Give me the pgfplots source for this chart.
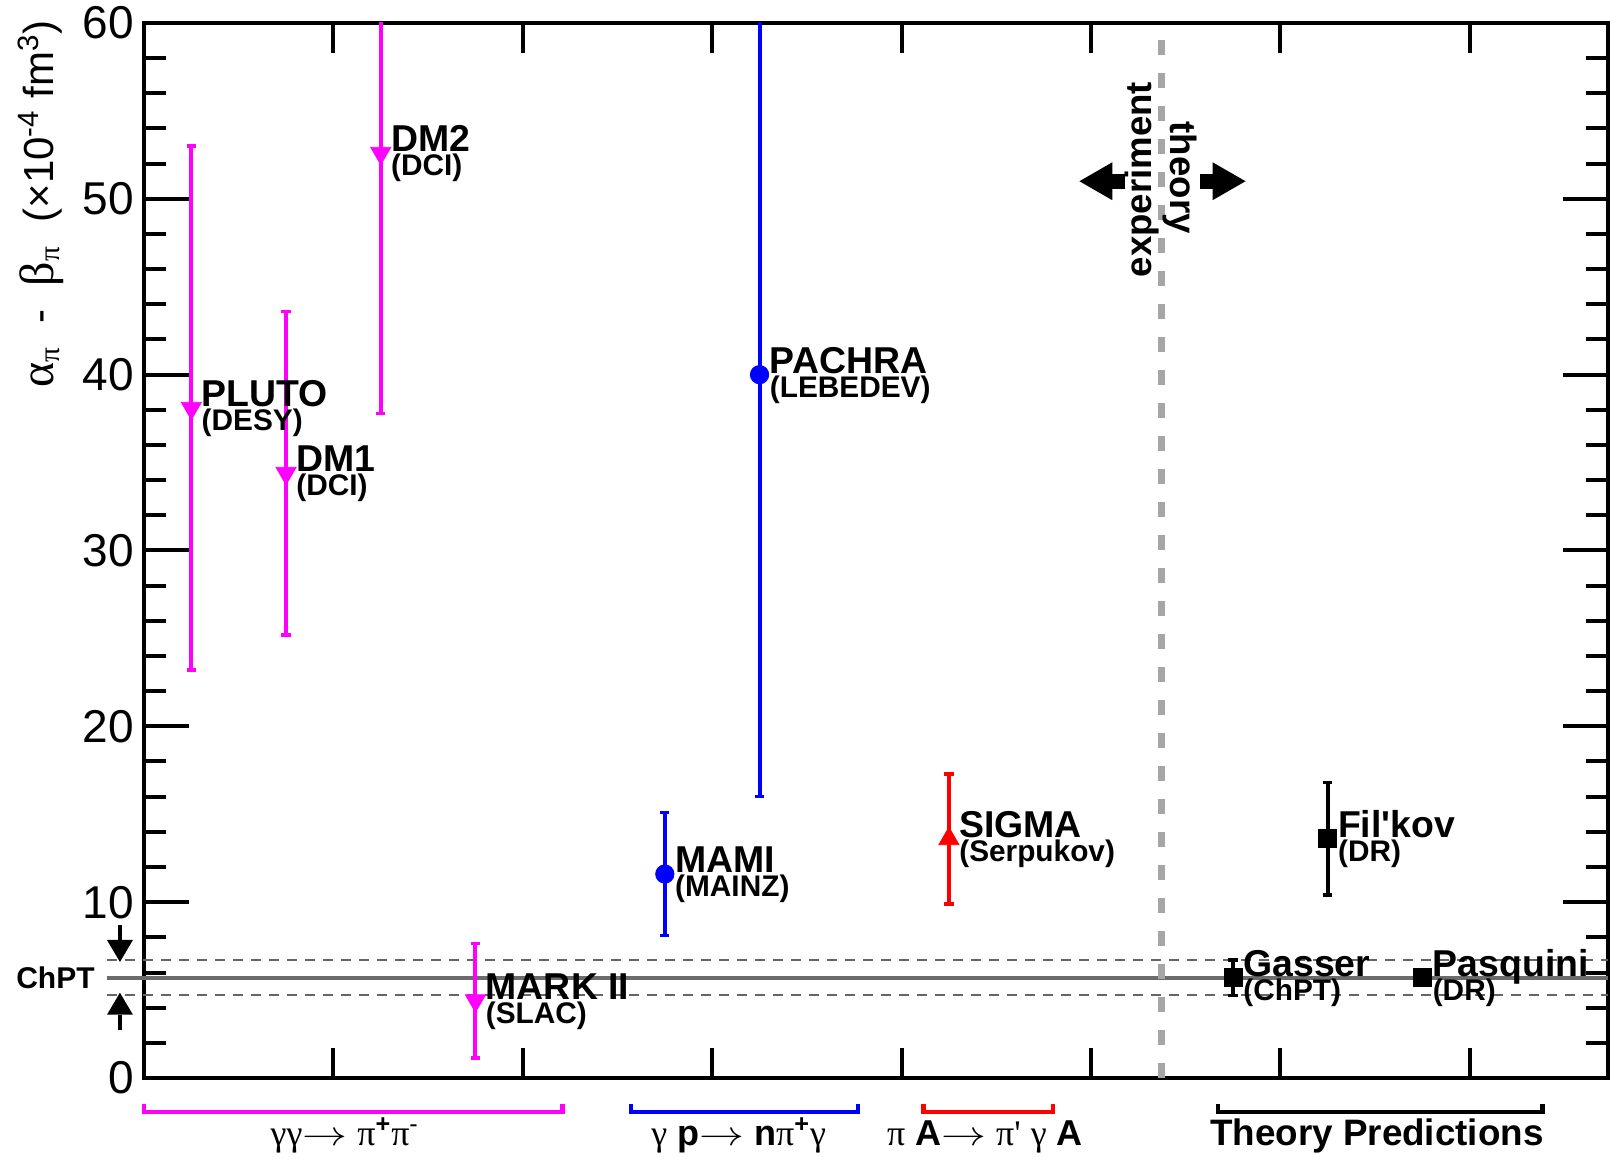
\documentclass[border=0pt]{standalone}
\usepackage{fontspec}
\setmainfont{Liberation Sans}
\newfontfamily\grk{Liberation Serif}
\usepackage{pgfplots}
\pgfplotsset{compat=1.18}
\usetikzlibrary{arrows.meta}

\definecolor{mag}{rgb}{1,0,1}
\definecolor{chpt}{HTML}{6B6B6B}
\definecolor{chptd}{HTML}{666666}
\definecolor{vdash}{HTML}{A6A6A6}

\newcommand\dlab[5]{%
  \node[anchor=base west, inner sep=0pt, font=\fontsize{18.7}{19}\selectfont#5] at ([xshift=5pt,yshift=0.8pt]axis cs:#1,#2) {#3};
  \node[anchor=base west, inner sep=0pt, font=\fontsize{14.9}{15}\selectfont#5] at ([xshift=5pt,yshift=-11.4pt]axis cs:#1,#2) {#4};}
\newcommand\brk[3]{%
  \draw[#1, line width=2.2pt, line join=miter] ([yshift=-13pt]axis cs:#2,0) -- ([yshift=-17pt]axis cs:#2,0) -- ([yshift=-17pt]axis cs:#3,0) -- ([yshift=-13pt]axis cs:#3,0);}
\newcommand\arr{\scalebox{1.3}[1]{\ensuremath{\rightarrow}}}

\begin{document}
\begin{tikzpicture}
\useasboundingbox (-72pt,-39pt) rectangle (733pt,539pt);
\begin{axis}[
  at={(0,0)}, anchor=south west, scale only axis,
  width=732pt, height=527.5pt,
  xmin=0, xmax=7.73, ymin=0, ymax=60,
  clip mode=individual,
  axis line style={line width=2.2pt, black},
  tick align=inside,
  xtick={1,2,3,4,5,6,7}, xticklabels={},
  ytick={0,10,20,30,40,50,60}, minor y tick num=4,
  xtick style={line width=2pt, black, /pgfplots/major tick length=15pt},
  ytick style={line width=2pt, black, /pgfplots/major tick length=22.5pt, /pgfplots/minor tick length=11pt},
  yticklabel style={font=\fontsize{23}{24}\selectfont, inner sep=5pt},
  /pgf/number format/assume math mode=true,
  error bars/error mark=-,
  error bars/error bar style={line width=2pt},
]
% ChPT band
\draw[chpt, line width=2.2pt] (axis cs:-0.195,5.7) -- (axis cs:7.73,5.7);
\draw[chptd, line width=1pt, dash pattern=on 5pt off 4pt] (axis cs:-0.195,6.7) -- (axis cs:7.73,6.7);
\draw[chptd, line width=1pt, dash pattern=on 5pt off 4pt] (axis cs:-0.195,4.7) -- (axis cs:7.73,4.7);
\draw[-{Triangle[length=11pt,width=13pt,line width=0pt]}, line width=2pt] (axis cs:-0.127,8.7) -- (axis cs:-0.127,6.6);
\draw[-{Triangle[length=11pt,width=13pt,line width=0pt]}, line width=2pt] (axis cs:-0.127,2.73) -- (axis cs:-0.127,4.85);
\node[anchor=east, inner sep=0pt, font=\fontsize{15}{16}\selectfont\bfseries] at ([xshift=-24.5pt]axis cs:0,5.7) {ChPT};

% experiment / theory divider
\addplot[vdash, line width=3.5pt, dash pattern=on 7.5pt off 9pt] coordinates {(5.375,0) (5.375,60)};
\node[rotate=90, anchor=base, inner sep=0pt, font=\fontsize{18.3}{20}\selectfont\bfseries] at (axis cs:5.32,51.1) {experiment};
\node[rotate=-90, anchor=base, inner sep=0pt, font=\fontsize{18.3}{20}\selectfont\bfseries] at (axis cs:5.42,51.2) {theory};
\draw[-{Triangle[length=16.5pt,width=19pt,line width=0pt]}, line width=7.5pt] (axis cs:5.182,51) -- (axis cs:4.939,51);
\draw[-{Triangle[length=16.5pt,width=19pt,line width=0pt]}, line width=7.5pt] (axis cs:5.578,51) -- (axis cs:5.816,51);

% gamma gamma -> pi+ pi-
\addplot[only marks, color=mag, mark=triangle*, mark size=5.8pt,
  mark options={rotate=180, fill=mag, draw=mag, line width=0.4pt},
  error bars/.cd, y dir=both, y explicit,
  error bar style={line width=2pt, color=mag},
  error mark options={rotate=90, line width=1.8pt, mark size=2.3pt, color=mag}]
coordinates {
 (0.25,38.1) +- (0,14.9)
 (0.75,34.4) +- (0,9.2)
 (1.25,52.6) +- (0,14.8)
 (1.75,4.4) +- (0,3.25)
};
% gamma p -> n pi+ gamma
\addplot[only marks, color=blue, mark=*, mark size=4.6pt,
  mark options={fill=blue, draw=blue, line width=0.4pt},
  error bars/.cd, y dir=both, y explicit,
  error bar style={line width=2pt, color=blue},
  error mark options={rotate=90, line width=1.8pt, mark size=2.3pt, color=blue}]
coordinates {
 (2.75,11.6) +- (0,3.5)
 (3.25,40.0) +- (0,24.0)
};
% pi A -> pi' gamma A
\addplot[only marks, color=red, mark=triangle*, mark size=5.8pt,
  mark options={fill=red, draw=red, line width=0.4pt},
  error bars/.cd, y dir=both, y explicit,
  error bar style={line width=2pt, color=red},
  error mark options={rotate=90, line width=1.8pt, mark size=2.3pt, color=red}]
coordinates {
 (4.25,13.6) +- (0,3.7)
};
% theory
\addplot[only marks, color=black, mark=square*, mark size=4.5pt,
  mark options={fill=black, draw=black, line width=0.4pt},
  error bars/.cd, y dir=both, y explicit,
  error bar style={line width=2pt, color=black},
  error mark options={rotate=90, line width=1.8pt, mark size=2.3pt, color=black}]
coordinates {
 (5.75,5.7) +- (0,1.0)
 (6.25,13.6) +- (0,3.2)
 (6.75,5.7) +- (0,0)
};

% point labels
\dlab{0.25}{38.1}{PLUTO}{(DESY)}{\bfseries}
\dlab{0.75}{34.4}{DM1}{(DCI)}{\bfseries}
\dlab{1.25}{52.6}{DM2}{(DCI)}{\bfseries}
\dlab{1.75}{4.4}{MARK II}{(SLAC)}{\bfseries}
\dlab{2.75}{11.6}{MAMI}{(MAINZ)}{\bfseries}
\dlab{3.25}{40.0}{PACHRA}{(LEBEDEV)}{\bfseries}
\dlab{4.25}{13.6}{SIGMA}{(Serpukov)}{\bfseries}
\dlab{5.75}{5.7}{Gasser}{(ChPT)}{\bfseries}
\dlab{6.25}{13.6}{Fil\textquotesingle kov}{(DR)}{\bfseries}
\dlab{6.75}{5.7}{Pasquini}{(DR)}{\bfseries}

% y label
\node[rotate=90, anchor=east, inner sep=0pt, font=\fontsize{21}{22}\selectfont] at ([xshift=-51.5pt,yshift=1.5pt]rel axis cs:0,1)
  {{\grk\fontsize{24}{24}\selectfont α}\textsubscript{\grk π}\ \ -\ \ {\grk\fontsize{24}{24}\selectfont β}\textsubscript{\grk π}\ \ (×10\textsuperscript{-4} fm\textsuperscript{3})};

% reaction brackets
\brk{mag}{0.0}{2.21}
\brk{blue}{2.57}{3.77}
\brk{red}{4.115}{4.80}
\brk{black}{5.67}{7.385}
\node[anchor=base, inner sep=0pt, font=\fontsize{18}{20}\selectfont] at ([yshift=-33.5pt]axis cs:1.06,0)
  {{\grk γγ}\arr{} {\grk π}\textsuperscript{\bfseries +}{\grk π}\textsuperscript{-}};
\node[anchor=base, inner sep=0pt, font=\fontsize{18}{20}\selectfont] at ([yshift=-33.5pt]axis cs:3.14,0)
  {{\grk γ} \textbf{p}\arr{} \textbf{n}{\grk π}\textsuperscript{\bfseries +}{\grk γ}};
\node[anchor=base, inner sep=0pt, font=\fontsize{18}{20}\selectfont] at ([yshift=-33.5pt]axis cs:4.44,0)
  {{\grk π} \textbf{A}\arr{} {\grk π\textquotesingle} {\grk γ} \textbf{A}};
\node[anchor=base, inner sep=0pt, font=\fontsize{18.4}{20}\selectfont\bfseries] at ([yshift=-33.5pt]axis cs:6.51,0)
  {Theory Predictions};
\end{axis}
\end{tikzpicture}
\end{document}
